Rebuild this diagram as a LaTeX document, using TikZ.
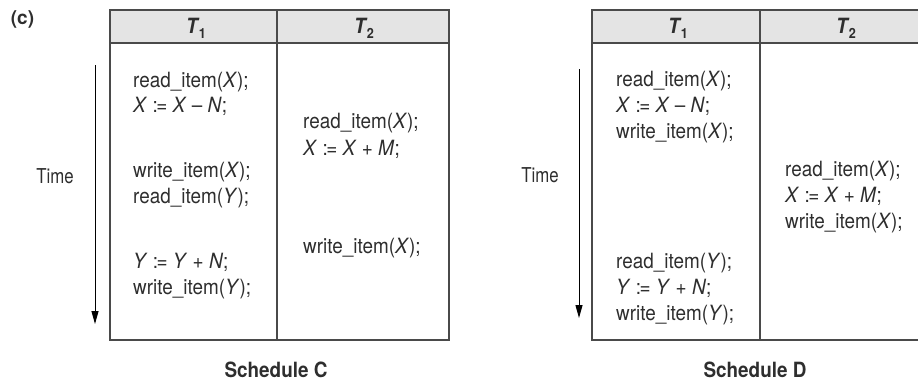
\documentclass[tikz,border=0pt]{standalone}
\usepackage{fontspec}
\setmainfont{TeX Gyre Heros}
\newfontfamily\codefont[FakeStretch=0.9]{TeX Gyre Heros}
\newfontfamily\timefont[FakeStretch=0.82]{TeX Gyre Heros}
\usetikzlibrary{arrows.meta}
\definecolor{linec}{HTML}{4A4A4A}
\definecolor{headc}{HTML}{E4E4E4}
\definecolor{txtc}{HTML}{2E2E2E}
\tikzset{
  tline/.style={draw=linec, line width=1.4pt},
  code/.style={anchor=base west, inner sep=0pt, font=\codefont\fontsize{21}{23}\selectfont, text=txtc},
  hdr/.style={anchor=base, inner sep=0pt, font=\codefont\fontsize{21}{23}\selectfont\bfseries, text=txtc},
  lbl/.style={anchor=base, inner sep=0pt, font=\timefont\fontsize{20.5}{23}\selectfont, text=txtc},
  captxt/.style={anchor=base, inner sep=0pt, font=\codefont\fontsize{21}{23}\selectfont\bfseries, text=txtc},
  timearrow/.style={draw=black, line width=1pt, -{Triangle[length=13pt,width=7pt]}}
}
\newcommand{\vX}{\textit{X}}
\newcommand{\vY}{\textit{Y}}
\newcommand{\vN}{\textit{N}}
\newcommand{\vM}{\textit{M}}
\newcommand{\asg}{\ :\kern-1.5pt=\ }
\newcommand{\Tsub}[1]{\textit{T}\kern-0.5pt\raisebox{-5pt}{\fontsize{14}{14}\selectfont\bfseries #1}}
\begin{document}
\begin{tikzpicture}[x=1pt,y=-1pt]
\useasboundingbox (0,0) rectangle (918,381);
% ---------- Schedule C ----------
\fill[headc] (110,10) rectangle (449,43);
\draw[tline] (110,10) rectangle (449,340);
\draw[tline] (110,43) -- (449,43);
\draw[tline] (277,10) -- (277,340);
\node[hdr] (cT1) at (196,33) {\Tsub{1}};
\node[hdr] (cT2) at (364,33) {\Tsub{2}};
\node[captxt, font=\fontsize{19}{21}\selectfont\bfseries] (lc) at (22.5,24) {(c)};
\coordinate (cA1) at (95,65);
\coordinate (cA2) at (95,324);
\draw[timearrow] (cA1) -- (cA2);
\node[lbl] (cTime) at (55,183) {Time};
\node[code] (c1) at (133,87) {read\_item(\vX);};
\node[code] (c2) at (133,112) {\vX\asg\vX\ – \vN;};
\node[code] (c3) at (133,177) {write\_item(\vX);};
\node[code] (c4) at (133,203) {read\_item(\vY);};
\node[code] (c5) at (133,268) {\vY\asg\vY\ + \vN;};
\node[code] (c6) at (133,294) {write\_item(\vY);};
\node[code] (c7) at (303,128) {read\_item(\vX);};
\node[code] (c8) at (303,155) {\vX\asg\vX\ + \vM;};
\node[code] (c9) at (303,253) {write\_item(\vX);};
\node[captxt] (schC) at (276,377) {Schedule C};
% ---------- Schedule D ----------
\fill[headc] (592,10) rectangle (930,43);
\draw[tline] (592,10) rectangle (930,340);
\draw[tline] (592,43) -- (930,43);
\draw[tline] (760,10) -- (760,340);
\node[hdr] (dT1) at (678,33) {\Tsub{1}};
\node[hdr] (dT2) at (846,33) {\Tsub{2}};
\coordinate (dA1) at (579,69);
\coordinate (dA2) at (579,318);
\draw[timearrow] (dA1) -- (dA2);
\node[lbl] (dTime) at (540,182) {Time};
\node[code] (d1) at (616,86) {read\_item(\vX);};
\node[code] (d2) at (616,112) {\vX\asg\vX\ – \vN;};
\node[code] (d3) at (616,138) {write\_item(\vX);};
\node[code] (d4) at (616,268) {read\_item(\vY);};
\node[code] (d5) at (616,294) {\vY\asg\vY\ + \vN;};
\node[code] (d6) at (616,320) {write\_item(\vY);};
\node[code] (d7) at (785,176) {read\_item(\vX);};
\node[code] (d8) at (785,202) {\vX\asg\vX\ + \vM;};
\node[code] (d9) at (785,228) {write\_item(\vX);};
\node[captxt] (schD) at (755,377) {Schedule D};
\end{tikzpicture}
\end{document}
